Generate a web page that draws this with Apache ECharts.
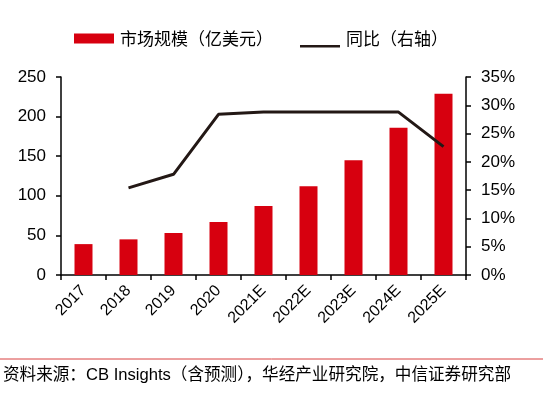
<!DOCTYPE html>
<html><head><meta charset="utf-8">
<script src="https://cdn.jsdelivr.net/npm/echarts@6/dist/echarts.min.js"></script>
<style>html,body{margin:0;padding:0;background:#fff}#c{width:543px;height:394px}</style>
</head><body><div id="c"></div>
<script>
const categories = ['2017','2018','2019','2020','2021E','2022E','2023E','2024E','2025E'];
const marketSize = [39, 45, 53, 67, 87, 112, 145, 186, 229];
const yoy = [null, 0.154, 0.178, 0.284, 0.288, 0.288, 0.288, 0.288, 0.227];
const leftTicks = [0, 250, 50];
const rightTicks = [0, 0.35, 0.05];
const FONT = '"Liberation Sans", Arial, "Noto Sans CJK SC", sans-serif';
const chart = echarts.init(document.getElementById('c'));
chart.setOption({
  animation: false,
  textStyle: { fontFamily: FONT },
  legend: {
    top: 32, left: 74, padding: 0,
    itemGap: 27, itemWidth: 40, itemHeight: 14,
    textStyle: { fontSize: 17, color: '#000', fontFamily: FONT, padding: [0, 0, 0, 1] },
    data: [
      { name: '市场规模（亿美元）', icon: 'path://M0,0 L40,0 L40,10 L0,10 Z M0,13.9 L0.1,13.9 L0.1,14 Z' },
      { name: '同比（右轴）', icon: 'path://M0,0 L0.1,0 L0.1,0.1 Z M0,11.5 L40,11.5 L40,14 L0,14 Z' }
    ]
  },
  grid: { left: 61, right: 77, top: 77, bottom: 119 },
  xAxis: {
    type: 'category', data: categories, boundaryGap: true,
    axisLine: { lineStyle: { color: '#000', width: 1.5 } },
    axisTick: { show: true, length: 5, alignWithLabel: false, lineStyle: { color: '#000', width: 1.5 } },
    axisLabel: { rotate: 45, fontSize: 16, color: '#000', margin: 13, interval: 0 }
  },
  yAxis: [
    {
      type: 'value', min: leftTicks[0], max: leftTicks[1], interval: leftTicks[2],
      axisLine: { show: true, lineStyle: { color: '#000', width: 1.5 } },
      axisTick: { show: true, length: 5, lineStyle: { color: '#000', width: 1.5 } },
      axisLabel: { fontSize: 17, color: '#000', margin: 15 },
      splitLine: { show: false }
    },
    {
      type: 'value', min: rightTicks[0], max: rightTicks[1], interval: rightTicks[2],
      position: 'right',
      axisLine: { show: true, lineStyle: { color: '#000', width: 1.5 } },
      axisTick: { show: true, length: 5, lineStyle: { color: '#000', width: 1.5 } },
      axisLabel: { fontSize: 17, color: '#000', margin: 15, formatter: v => Math.round(v * 100) + '%' },
      splitLine: { show: false }
    }
  ],
  series: [
    {
      name: '市场规模（亿美元）', type: 'bar', data: marketSize, barWidth: 18,
      itemStyle: { color: '#d7000f' }
    },
    {
      name: '同比（右轴）', type: 'line', yAxisIndex: 1, data: yoy,
      symbol: 'none', connectNulls: false,
      lineStyle: { color: '#231815', width: 3 },
      itemStyle: { color: '#231815' }
    }
  ],
  graphic: [
    { type: 'line', shape: { x1: 0, y1: 359, x2: 543, y2: 359 }, style: { stroke: '#d94040', lineWidth: 1 } },
    { type: 'text', left: 3, top: 367, style: { text: '资料来源：CB Insights（含预测），华经产业研究院，中信证券研究部', font: '16.6px ' + FONT, fill: '#000' } }
  ]
});
</script></body></html>
